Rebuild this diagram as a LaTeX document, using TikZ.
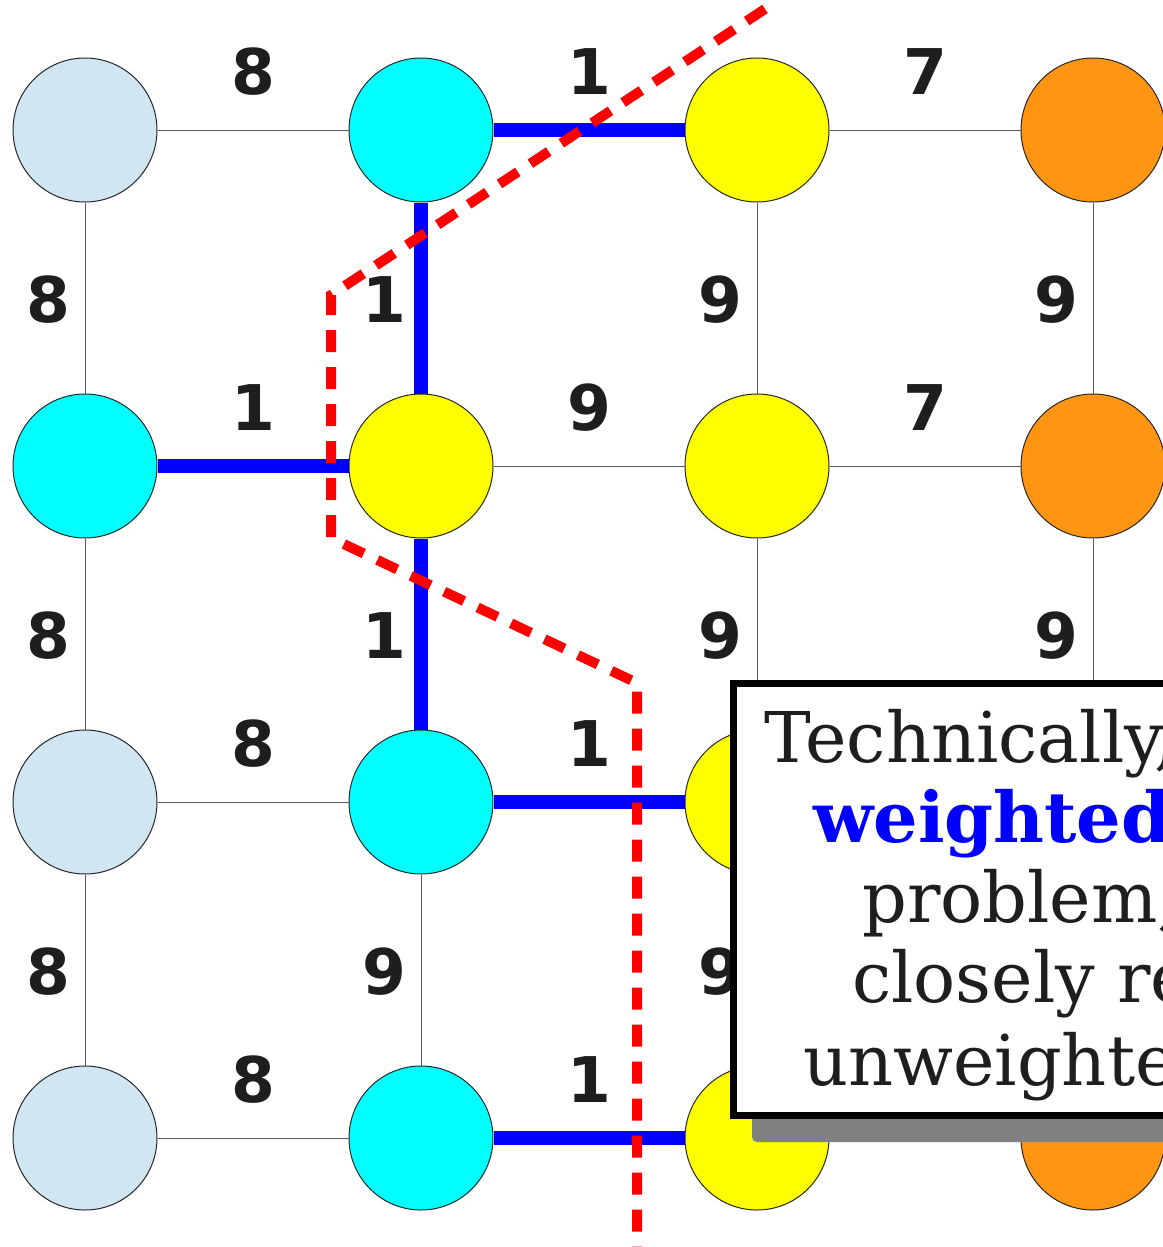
\documentclass[tikz,border=0pt]{standalone}
\usepackage{fontspec}
\setmainfont{DejaVu Serif}
\newfontfamily\lblfont{DejaVu Sans}
\definecolor{lb}{RGB}{208,230,243}
\definecolor{cy}{RGB}{0,255,255}
\definecolor{ye}{RGB}{255,255,0}
\definecolor{og}{RGB}{255,149,18}
\definecolor{txt}{RGB}{30,30,30}
\begin{document}
\begin{tikzpicture}[x=1pt,y=-1pt,
  vtx/.style={circle,draw=black!85,line width=1pt,minimum size=144pt,inner sep=0pt},
  edg/.style={draw=black!65,line width=1pt},
  bluepath/.style={draw=blue,line width=14pt},
  wlab/.style={font=\lblfont\bfseries\fontsize{63}{63}\selectfont,text=txt,inner sep=0pt},
  boxtext/.style={font=\fontsize{70}{70}\selectfont,text=txt,inner sep=0pt,anchor=base west},
  cutline/.style={draw=red,line width=10pt,dash pattern=on 22pt off 15pt}
]
\useasboundingbox (0,0) rectangle (1162,1247);
\fill[white] (0,0) rectangle (1162,1247);

% vertices
\node[vtx,fill=lb] (a0) at (85,130) {};
\node[vtx,fill=cy] (a1) at (85,466) {};
\node[vtx,fill=lb] (a2) at (85,802) {};
\node[vtx,fill=lb] (a3) at (85,1138) {};
\node[vtx,fill=cy] (b0) at (421,130) {};
\node[vtx,fill=ye] (b1) at (421,466) {};
\node[vtx,fill=cy] (b2) at (421,802) {};
\node[vtx,fill=cy] (b3) at (421,1138) {};
\node[vtx,fill=ye] (c0) at (757,130) {};
\node[vtx,fill=ye] (c1) at (757,466) {};
\node[vtx,fill=ye] (c2) at (757,802) {};
\node[vtx,fill=ye] (c3) at (757,1138) {};
\node[vtx,fill=og] (d0) at (1093,130) {};
\node[vtx,fill=og] (d1) at (1093,466) {};
\node[vtx,fill=og] (d2) at (1093,802) {};
\node[vtx,fill=og] (d3) at (1093,1138) {};

% thin edges
\draw[edg] (a0) -- (b0);
\draw[edg] (c0) -- (d0);
\draw[edg] (b1) -- (c1);
\draw[edg] (c1) -- (d1);
\draw[edg] (a2) -- (b2);
\draw[edg] (c2) -- (d2);
\draw[edg] (a3) -- (b3);
\draw[edg] (c3) -- (d3);
\draw[edg] (a0) -- (a1);
\draw[edg] (a1) -- (a2);
\draw[edg] (a2) -- (a3);
\draw[edg] (b2) -- (b3);
\draw[edg] (c0) -- (c1);
\draw[edg] (c1) -- (c2);
\draw[edg] (c2) -- (c3);
\draw[edg] (d0) -- (d1);
\draw[edg] (d1) -- (d2);
\draw[edg] (d2) -- (d3);

% blue tree edges
\draw[bluepath] (b0) -- (c0);
\draw[bluepath] (b0) -- (b1);
\draw[bluepath] (a1) -- (b1);
\draw[bluepath] (b1) -- (b2);
\draw[bluepath] (b2) -- (c2);
\draw[bluepath] (b3) -- (c3);

% weights
\node[wlab] (w1) at (253,72) {8};
\node[wlab] (w2) at (589,72) {1};
\node[wlab] (w3) at (925,72) {7};
\node[wlab] (w4) at (253,408) {1};
\node[wlab] (w5) at (589,408) {9};
\node[wlab] (w6) at (925,408) {7};
\node[wlab] (w7) at (253,744) {8};
\node[wlab] (w8) at (589,744) {1};
\node[wlab] (w9) at (253,1080) {8};
\node[wlab] (w10) at (589,1080) {1};
\node[wlab] (v1) at (48,300) {8};
\node[wlab] (v2) at (48,636) {8};
\node[wlab] (v3) at (48,972) {8};
\node[wlab] (v4) at (384,300) {1};
\node[wlab] (v5) at (384,636) {1};
\node[wlab] (v6) at (384,972) {9};
\node[wlab] (v7) at (720,300) {9};
\node[wlab] (v8) at (720,636) {9};
\node[wlab] (v9) at (720,972) {9};
\node[wlab] (v10) at (1056,300) {9};
\node[wlab] (v11) at (1056,636) {9};

% cut line
\coordinate (k0) at (765,9);
\coordinate (k1) at (331,295);
\coordinate (k2) at (331,538);
\coordinate (k3) at (637,683);
\coordinate (k4) at (637,1260);
\draw[cutline] (k0) -- (k1) -- (k2) -- (k3) -- (k4);

% callout box
\fill[black!50,rounded corners=5pt] (752,700) rectangle (1300,1142);
\draw[line width=7pt,fill=white] (733.5,683.5) rectangle (1320,1115);
\node[boxtext] (t1) at (764,762) {Technically,};
\node[boxtext,font=\bfseries\fontsize{70}{70}\selectfont,text=blue] (t2) at (813,842) {weighted};
\node[boxtext] (t3) at (862,922) {problem,};
\node[boxtext] (t4) at (852,1002) {closely related};
\node[boxtext] (t5) at (803,1085) {unweighted};
\end{tikzpicture}
\end{document}
